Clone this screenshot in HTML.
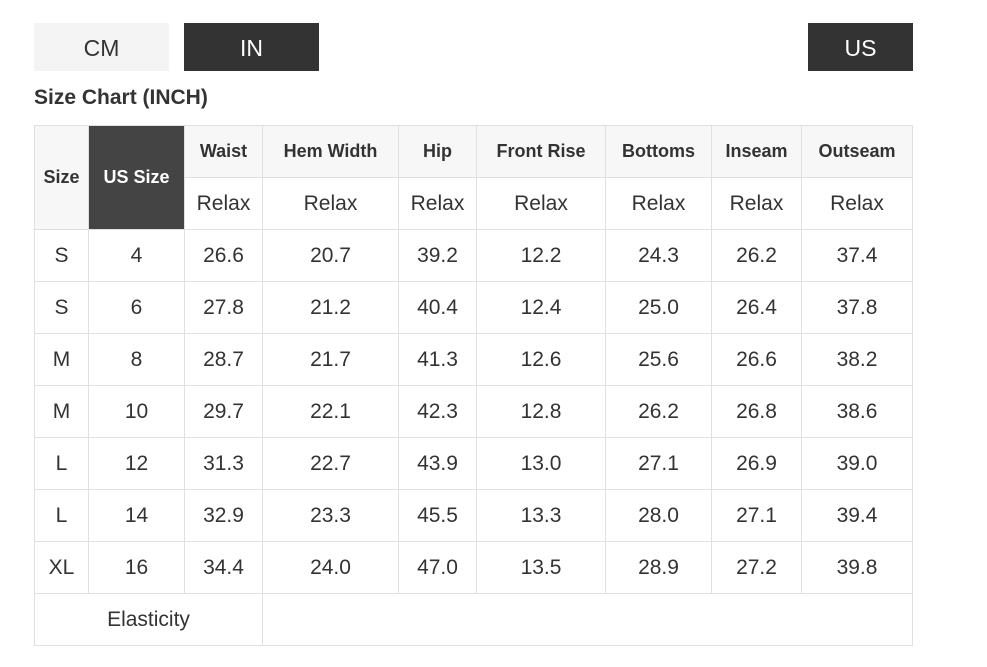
<!DOCTYPE html>
<html><head><meta charset="utf-8"><style>
body{margin:0;background:#fff;width:987px;height:667px;position:relative;font-family:"Liberation Sans",Arial,sans-serif;color:#333;overflow:hidden}
.btn{position:absolute;top:23px;height:48px;line-height:50px;text-align:center;font-size:23px}
.title{position:absolute;left:34px;top:86px;font-weight:bold;font-size:21px;color:#333}
table{position:absolute;left:34px;top:125px;border-collapse:collapse;table-layout:fixed;width:878px}
td{border:1px solid #e0e0e0;height:51px;padding:0;text-align:center;font-size:21px;color:#333}
.h{background:#f7f7f7;font-weight:bold;font-size:18px}
.d{background:#444;color:#fff;font-weight:bold;font-size:18px}
</style></head><body>
<div class="btn" style="left:34px;width:135px;background:#f4f4f4;color:#333">CM</div>
<div class="btn" style="left:184px;width:135px;background:#333;color:#fff">IN</div>
<div class="btn" style="left:808px;width:105px;background:#333;color:#fff">US</div>
<div class="title">Size Chart (INCH)</div>
<table>
<colgroup><col style="width:54px"><col style="width:96px"><col style="width:78px"><col style="width:136px"><col style="width:78px"><col style="width:129px"><col style="width:106px"><col style="width:90px"><col style="width:111px"></colgroup>
<tr><td class="h" rowspan="2">Size</td><td class="d" rowspan="2">US Size</td><td class="h">Waist</td><td class="h">Hem Width</td><td class="h">Hip</td><td class="h">Front Rise</td><td class="h">Bottoms</td><td class="h">Inseam</td><td class="h">Outseam</td></tr>
<tr><td>Relax</td><td>Relax</td><td>Relax</td><td>Relax</td><td>Relax</td><td>Relax</td><td>Relax</td></tr>
<tr><td>S</td><td>4</td><td>26.6</td><td>20.7</td><td>39.2</td><td>12.2</td><td>24.3</td><td>26.2</td><td>37.4</td></tr>
<tr><td>S</td><td>6</td><td>27.8</td><td>21.2</td><td>40.4</td><td>12.4</td><td>25.0</td><td>26.4</td><td>37.8</td></tr>
<tr><td>M</td><td>8</td><td>28.7</td><td>21.7</td><td>41.3</td><td>12.6</td><td>25.6</td><td>26.6</td><td>38.2</td></tr>
<tr><td>M</td><td>10</td><td>29.7</td><td>22.1</td><td>42.3</td><td>12.8</td><td>26.2</td><td>26.8</td><td>38.6</td></tr>
<tr><td>L</td><td>12</td><td>31.3</td><td>22.7</td><td>43.9</td><td>13.0</td><td>27.1</td><td>26.9</td><td>39.0</td></tr>
<tr><td>L</td><td>14</td><td>32.9</td><td>23.3</td><td>45.5</td><td>13.3</td><td>28.0</td><td>27.1</td><td>39.4</td></tr>
<tr><td>XL</td><td>16</td><td>34.4</td><td>24.0</td><td>47.0</td><td>13.5</td><td>28.9</td><td>27.2</td><td>39.8</td></tr>
<tr><td colspan="3">Elasticity</td><td colspan="6"></td></tr>
</table>
</body></html>
